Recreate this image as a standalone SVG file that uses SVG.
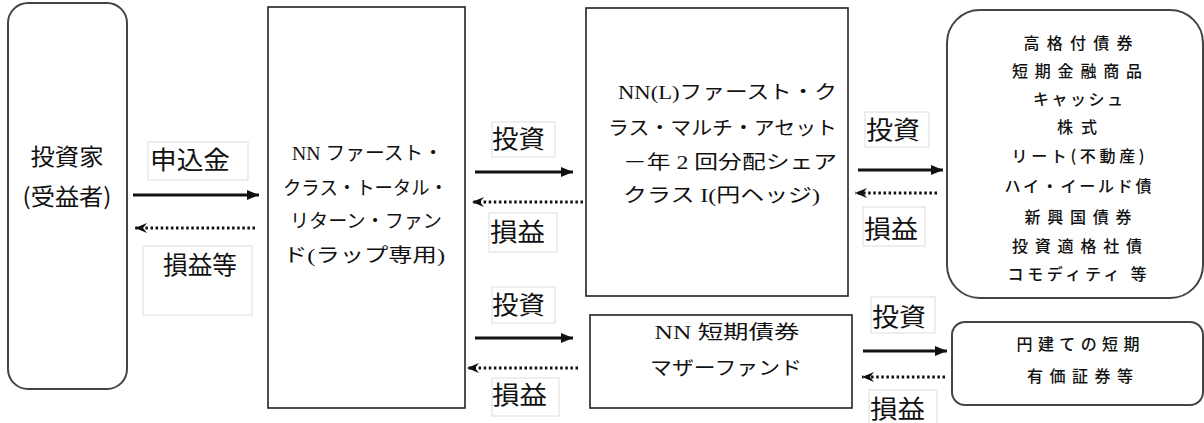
<svg xmlns="http://www.w3.org/2000/svg" width="1204" height="423" viewBox="0 0 1204 423">
<defs>
<style>
.box{fill:#fff;stroke:#222;stroke-width:1.6}
.rbox{fill:#fff;stroke:#444;stroke-width:2}
.lbl{fill:#fff;stroke:#ddd;stroke-width:1}
.t{font-family:"Noto Sans CJK JP",sans-serif;fill:#111;dominant-baseline:central}
.tl{font-size:25px}
.ts{font-family:"Liberation Serif","Noto Sans CJK JP",serif;font-size:19px;fill:#111;dominant-baseline:central}
.ta{font-size:16px;font-weight:500;text-anchor:middle}
.solid{stroke:#111;stroke-width:2.8;fill:none}
.dot{stroke:#111;stroke-width:3;fill:none;stroke-dasharray:2.5 2.6}
</style>
<marker id="ah" markerUnits="userSpaceOnUse" markerWidth="12" markerHeight="12" viewBox="0 0 12 12" refX="12" refY="6" orient="auto">
<path d="M0,1 L12,6 L0,11 z" fill="#111"/>
</marker>
<marker id="ad" markerUnits="userSpaceOnUse" markerWidth="12" markerHeight="12" viewBox="0 0 12 12" refX="12" refY="6" orient="auto">
<path d="M0,1 L12,6 L0,11 L4,6 z" fill="#111"/>
</marker>
</defs>
<rect width="1204" height="423" fill="#fff"/>

<g id="investor">
<rect class="rbox" x="8" y="3" width="119" height="386" rx="20"/>
<text class="t" x="67" y="155" font-size="23" text-anchor="middle" textLength="73" lengthAdjust="spacingAndGlyphs">投資家</text>
<text class="t" x="67" y="195" font-size="23" text-anchor="middle" textLength="89" lengthAdjust="spacingAndGlyphs">(受益者)</text>
</g>

<g id="fund-wrap">
<rect class="box" x="268" y="7" width="197" height="401"/>
<text class="ts" x="292" y="153" textLength="151" lengthAdjust="spacingAndGlyphs">NN ファースト・</text>
<text class="ts" x="283" y="188" textLength="165" lengthAdjust="spacingAndGlyphs">クラス・トータル・</text>
<text class="ts" x="290" y="221" textLength="152" lengthAdjust="spacingAndGlyphs">リターン・ファン</text>
<text class="ts" x="283" y="255" textLength="162" lengthAdjust="spacingAndGlyphs">ド(ラップ専用)</text>
</g>

<g id="fund-multi-asset">
<rect class="box" x="586" y="8" width="262" height="288"/>
<text class="ts" x="618" y="92" font-size="20" textLength="219" lengthAdjust="spacingAndGlyphs">NN(L)ファースト・ク</text>
<text class="ts" x="608" y="128" font-size="20" textLength="229" lengthAdjust="spacingAndGlyphs">ラス・マルチ・アセット</text>
<text class="ts" x="623" y="162" font-size="20" textLength="214" lengthAdjust="spacingAndGlyphs">－年 2 回分配シェア</text>
<text class="ts" x="623" y="195" font-size="20" textLength="197" lengthAdjust="spacingAndGlyphs">クラス I(円ヘッジ)</text>
</g>

<g id="fund-short-term">
<rect class="box" x="590" y="315" width="262" height="93"/>
<text class="ts" x="727" y="332" text-anchor="middle" textLength="145" lengthAdjust="spacingAndGlyphs">NN 短期債券</text>
<text class="ts" x="726" y="368" text-anchor="middle" textLength="152" lengthAdjust="spacingAndGlyphs">マザーファンド</text>
</g>

<g id="assets">
<rect class="rbox" x="947" y="10" width="256" height="288" rx="33"/>
<text class="t ta" x="1078" y="42" textLength="109" lengthAdjust="spacing">高格付債券</text>
<text class="t ta" x="1077" y="70" textLength="130" lengthAdjust="spacing">短期金融商品</text>
<text class="t ta" x="1078" y="98" textLength="90" lengthAdjust="spacing">キャッシュ</text>
<text class="t ta" x="1077" y="126" textLength="40" lengthAdjust="spacing">株式</text>
<text class="t ta" x="1078" y="155" textLength="133" lengthAdjust="spacing">リート(不動産)</text>
<text class="t ta" x="1078" y="185" textLength="147" lengthAdjust="spacing">ハイ・イールド債</text>
<text class="t ta" x="1078" y="216" textLength="107" lengthAdjust="spacing">新興国債券</text>
<text class="t ta" x="1077" y="245" textLength="130" lengthAdjust="spacing">投資適格社債</text>
<text class="t ta" x="1077" y="273" textLength="139" lengthAdjust="spacing">コモディティ 等</text>
</g>

<g id="short-assets">
<rect class="rbox" x="952" y="322" width="251" height="83" rx="13"/>
<text class="t ta" x="1078" y="343" textLength="123" lengthAdjust="spacing">円建ての短期</text>
<text class="t ta" x="1080" y="375" textLength="106" lengthAdjust="spacing">有価証券等</text>
</g>

<g id="connectors">
<line class="solid" x1="133" y1="195" x2="259" y2="195" marker-end="url(#ah)"/>
<line class="dot" x1="255" y1="228" x2="135" y2="228" marker-end="url(#ad)"/>
<line class="solid" x1="475" y1="172" x2="573" y2="172" marker-end="url(#ah)"/>
<line class="dot" x1="583" y1="202" x2="472" y2="202" marker-end="url(#ad)"/>
<line class="solid" x1="475" y1="338" x2="573" y2="338" marker-end="url(#ah)"/>
<line class="dot" x1="578" y1="368" x2="467" y2="368" marker-end="url(#ad)"/>
<line class="solid" x1="858" y1="170" x2="943" y2="170" marker-end="url(#ah)"/>
<line class="dot" x1="937" y1="193" x2="855" y2="193" marker-end="url(#ad)"/>
<line class="solid" x1="863" y1="351" x2="947" y2="351" marker-end="url(#ah)"/>
<line class="dot" x1="945" y1="377" x2="862" y2="377" marker-end="url(#ad)"/>
</g>

<g id="labels">
<rect class="lbl" x="148" y="142" width="100" height="38"/>
<text class="t tl" x="150" y="158" textLength="80" lengthAdjust="spacingAndGlyphs">申込金</text>
<rect class="lbl" x="143" y="246" width="109" height="69"/>
<text class="t tl" x="163" y="263" textLength="74" lengthAdjust="spacingAndGlyphs">損益等</text>
<rect class="lbl" x="492" y="122" width="63" height="35"/>
<text class="t tl" x="492" y="137" textLength="53" lengthAdjust="spacingAndGlyphs">投資</text>
<rect class="lbl" x="489" y="213" width="68" height="39"/>
<text class="t tl" x="490" y="230" textLength="55" lengthAdjust="spacingAndGlyphs">損益</text>
<rect class="lbl" x="492" y="287" width="63" height="36"/>
<text class="t tl" x="492" y="303" textLength="53" lengthAdjust="spacingAndGlyphs">投資</text>
<rect class="lbl" x="492" y="378" width="67" height="38"/>
<text class="t tl" x="492" y="393" textLength="55" lengthAdjust="spacingAndGlyphs">損益</text>
<rect class="lbl" x="865" y="112" width="64" height="35"/>
<text class="t tl" x="866" y="128" textLength="54" lengthAdjust="spacingAndGlyphs">投資</text>
<rect class="lbl" x="863" y="207" width="62" height="39"/>
<text class="t tl" x="864" y="227" textLength="54" lengthAdjust="spacingAndGlyphs">損益</text>
<rect class="lbl" x="871" y="297" width="64" height="36"/>
<text class="t tl" x="872" y="315" textLength="54" lengthAdjust="spacingAndGlyphs">投資</text>
<rect class="lbl" x="869" y="390" width="68" height="40"/>
<text class="t tl" x="870" y="407" textLength="55" lengthAdjust="spacingAndGlyphs">損益</text>
</g>
</svg>
